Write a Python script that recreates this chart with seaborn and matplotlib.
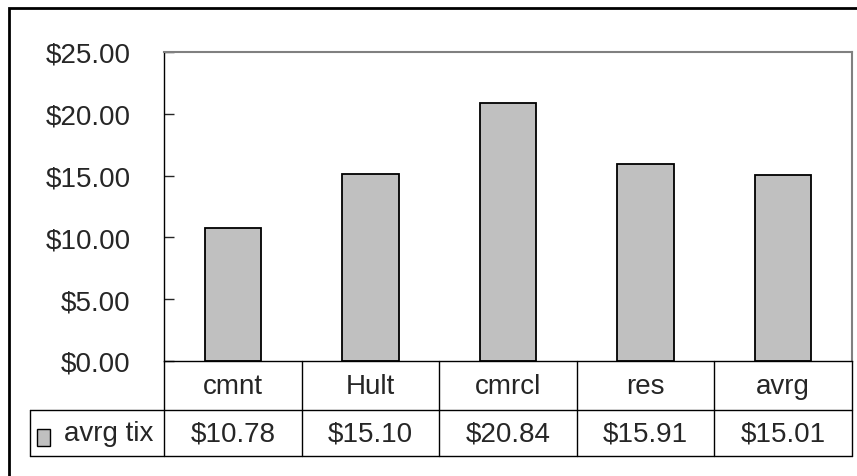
import numpy as np
import pandas as pd
import seaborn as sns
import matplotlib.pyplot as plt
from matplotlib.patches import Rectangle
from matplotlib.ticker import StrMethodFormatter, MultipleLocator

categories = ['cmnt', 'Hult', 'cmrcl', 'res', 'avrg']
avrg_tix = [10.78, 15.10, 20.84, 15.91, 15.01]
series_name = 'avrg tix'

sns.set_style('white')
plt.rcParams['font.family'] = ['Liberation Sans', 'DejaVu Sans']
FS = 20

W, H = 857, 477
fig = plt.figure(figsize=(W / 100, H / 100), dpi=100)

# plot area in pixels
px_l, px_r, px_t, px_b = 164, 852, 53, 362
ax = fig.add_axes([px_l / W, 1 - px_b / H, (px_r - px_l) / W, (px_b - px_t) / H])

df = pd.DataFrame({'cat': categories, 'val': avrg_tix})
sns.barplot(data=df, x='cat', y='val', color='#c0c0c0', saturation=1,
            edgecolor='black', linewidth=1.3, width=0.41, ax=ax)

ax.set_xlim(-0.5, len(categories) - 0.5)
ax.set_ylim(0, 25)
ax.yaxis.set_major_locator(MultipleLocator(5))
ax.yaxis.set_major_formatter(StrMethodFormatter('${x:.2f}'))
ax.tick_params(axis='y', direction='in', length=7, width=1, pad=24,
               labelsize=FS, left=True)
ax.tick_params(axis='x', bottom=False, labelbottom=False)
ax.set_xlabel('')
ax.set_ylabel('')
for side in ['top', 'right']:
    ax.spines[side].set_color('#808080')
    ax.spines[side].set_linewidth(1.5)
for side in ['left', 'bottom']:
    ax.spines[side].set_color('black')
    ax.spines[side].set_linewidth(1)

# data table under the plot, x in category units, y in axes fraction
trans = ax.get_xaxis_transform()
ax_h = px_b - px_t
col_px = (px_r - px_l) / len(categories)
y_hdr = -49 / ax_h
y_row = -95 / ax_h
x_lab = -0.5 - (px_l - 30) / col_px
x_end = len(categories) - 0.5
line_kw = dict(color='black', linewidth=1, transform=trans, clip_on=False)

ax.plot([x_lab, x_end], [y_hdr, y_hdr], **line_kw)
ax.plot([x_lab, x_end], [y_row, y_row], **line_kw)
ax.plot([x_lab, x_lab], [y_hdr, y_row], **line_kw)
for b in np.arange(-0.5, len(categories), 1.0):
    ax.plot([b, b], [0, y_row], **line_kw)

for i, (cat, v) in enumerate(zip(categories, avrg_tix)):
    ax.text(i, y_hdr / 2, cat, transform=trans, ha='center', va='center', fontsize=FS)
    ax.text(i, (y_hdr + y_row) / 2, f'${v:.2f}', transform=trans,
            ha='center', va='center', fontsize=FS)

# row label with legend key
ax.add_patch(Rectangle((x_lab + 7 / col_px, (y_hdr + y_row) / 2 - 13 / ax_h),
                       13 / col_px, 17 / ax_h,
                       transform=trans, clip_on=False, facecolor='#c0c0c0',
                       edgecolor='black', linewidth=1))
ax.text(x_lab + 34 / col_px, (y_hdr + y_row) / 2, series_name, transform=trans,
        ha='left', va='center', fontsize=FS)

# outer chart frame (continues past the image edge)
fig.patches.append(Rectangle((9 / W, -0.05), 1.1, 1.05 - 9 / H,
                             transform=fig.transFigure, facecolor='none',
                             edgecolor='black', linewidth=2))

fig.savefig('out.png', dpi=100)
